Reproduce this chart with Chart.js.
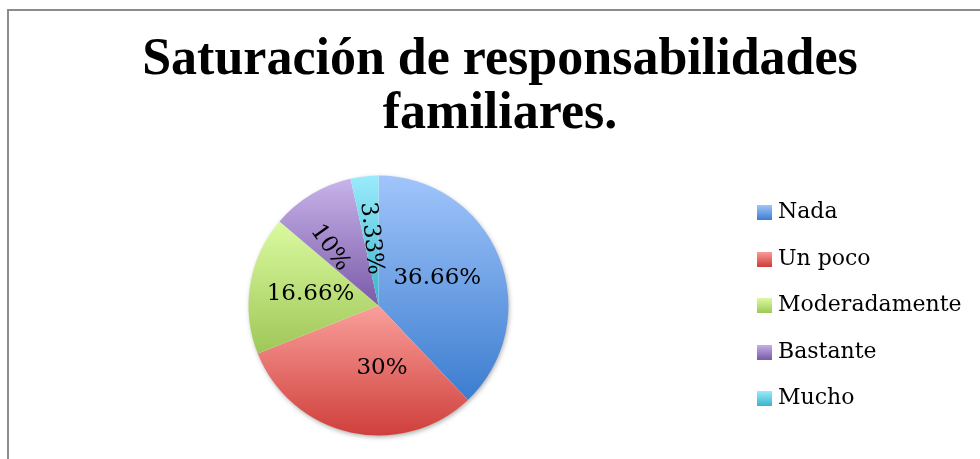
<!DOCTYPE html>
<html>
<head>
<meta charset="utf-8">
<script src="https://cdn.jsdelivr.net/npm/chart.js@4/dist/chart.umd.min.js"></script>
<style>
  html, body { margin: 0; padding: 0; background: #ffffff; }
  #frame { position: absolute; left: 7px; top: 9px; width: 1100px; height: 600px;
           border-left: 2px solid #8c8c8c; border-top: 2px solid #8c8c8c; box-sizing: border-box; }
  #wrap { position: absolute; left: 0; top: 0; width: 980px; height: 459px; }
</style>
</head>
<body>
<div id="frame"></div>
<div id="wrap"><canvas id="c" width="980" height="459"></canvas></div>
<script>
// ---- data ----
const titleLines = ["Saturación de responsabilidades", "familiares."];
const categories = ["Nada", "Un poco", "Moderadamente", "Bastante", "Mucho"];
const percentValues = [36.66, 30, 16.66, 10, 3.33];

// ---- styles ----
const topColors    = ["#a0c5fb", "#fa9f9b", "#dbfaa0", "#c8b3ea", "#9aebfb"];
const bottomColors = ["#3c7dcf", "#cf3f3b", "#9fc757", "#7a5ba8", "#38b3cd"];
const flatColors   = ["#6d9fe5", "#e46f6b", "#bde07b", "#a187c9", "#69cfe4"];
const serif = "'Liberation Serif', 'Times New Roman', serif";
const bodySerif = "'DejaVu Serif', serif";
// label placement: radial fraction and angular nudge (degrees)
const labelDist = [0.50, 0.48, 0.53, 0.58, 0.52];
const labelTurn = [-3.5, -15.6, 0, -9, 0];

function sliceGradient(context) {
  const chart = context.chart;
  const i = context.dataIndex;
  const ca = chart.chartArea;
  if (!ca || i === undefined) return flatColors[i] || '#999';
  const data = context.dataset.data;
  const total = data.reduce((a, b) => a + b, 0);
  const cx = (ca.left + ca.right) / 2, cy = (ca.top + ca.bottom) / 2;
  const R = Math.min(ca.right - ca.left, ca.bottom - ca.top) / 2;
  let before = 0;
  for (let k = 0; k < i; k++) before += data[k];
  const s = -Math.PI / 2 + before / total * 2 * Math.PI;
  const e = s + data[i] / total * 2 * Math.PI;
  const ys = [cy, cy + R * Math.sin(s), cy + R * Math.sin(e)];
  const contains = (a) => {
    for (let t = a - 4 * Math.PI; t <= e + 0.0001; t += 2 * Math.PI) if (t >= s - 0.0001 && t <= e + 0.0001) return true;
    return false;
  };
  if (contains(Math.PI / 2)) ys.push(cy + R);
  if (contains(-Math.PI / 2)) ys.push(cy - R);
  const y0 = Math.min(...ys), y1 = Math.max(...ys);
  const g = chart.ctx.createLinearGradient(0, y0, 0, y1);
  g.addColorStop(0, topColors[i]);
  g.addColorStop(1, bottomColors[i]);
  return g;
}

// gradient legend swatches
const swatches = categories.map((_, i) => {
  const c = document.createElement('canvas');
  c.width = 15; c.height = 15;
  const x = c.getContext('2d');
  const g = x.createLinearGradient(0, 0, 0, 15);
  g.addColorStop(0, topColors[i]);
  g.addColorStop(1, bottomColors[i]);
  x.fillStyle = g;
  x.fillRect(0, 0, 15, 15);
  return c;
});

const legendWidthPlugin = {
  id: 'legendWidth',
  afterInit(chart) {
    const lg = chart.legend;
    if (!lg) return;
    const orig = lg.fit.bind(lg);
    lg.fit = function () { orig(); this.width = 243; };
  }
};

const pieShadow = {
  id: 'pieShadow',
  beforeDatasetsDraw(chart) {
    const arc = chart.getDatasetMeta(0).data[0];
    if (!arc) return;
    const p = arc.getProps(['x', 'y', 'outerRadius'], true);
    const ctx = chart.ctx;
    ctx.save();
    ctx.shadowColor = 'rgba(0,0,0,0.35)';
    ctx.shadowBlur = 5;
    ctx.shadowOffsetY = 2;
    ctx.shadowOffsetX = 1;
    ctx.fillStyle = '#ffffff';
    ctx.beginPath();
    ctx.arc(p.x, p.y, p.outerRadius - 0.5, 0, Math.PI * 2);
    ctx.fill();
    ctx.restore();
  }
};

const pieLabels = {
  id: 'pieLabels',
  afterDatasetsDraw(chart) {
    const meta = chart.getDatasetMeta(0);
    const ctx = chart.ctx;
    ctx.save();
    ctx.font = "23px " + bodySerif;
    ctx.fillStyle = '#000000';
    ctx.textAlign = 'center';
    ctx.textBaseline = 'middle';
    meta.data.forEach((arc, i) => {
      const p = arc.getProps(['x', 'y', 'startAngle', 'endAngle', 'outerRadius'], true);
      const mid = (p.startAngle + p.endAngle) / 2;
      const ang = mid + labelTurn[i] * Math.PI / 180;
      const span = p.endAngle - p.startAngle;
      const rotate = span < 0.7;
      const r = p.outerRadius * labelDist[i];
      const px = p.x + Math.cos(ang) * r;
      const py = p.y + Math.sin(ang) * r;
      ctx.save();
      ctx.translate(px, py);
      if (rotate) ctx.rotate((mid + ang) / 2 + Math.PI);
      ctx.fillText(percentValues[i] + '%', 0, 0);
      ctx.restore();
    });
    ctx.restore();
  }
};

new Chart(document.getElementById('c'), {
  type: 'pie',
  data: {
    labels: categories,
    datasets: [{
      data: percentValues,
      backgroundColor: sliceGradient,
      borderWidth: 0
    }]
  },
  options: {
    responsive: false,
    animation: false,
    devicePixelRatio: 1,
    layout: { padding: { left: 19.5, right: -0.5, top: 10, bottom: 23.5 } },
    plugins: {
      tooltip: { enabled: false },
      title: {
        display: true,
        text: titleLines,
        color: '#000000',
        font: { family: serif, size: 52, weight: 'bold', lineHeight: 1.03 },
        padding: { top: 24.25, bottom: 34.25 }
      },
      legend: {
        position: 'right',
        fullSize: false,
        align: 'center',
        labels: {
          color: '#000000',
          font: { family: bodySerif, size: 22 },
          padding: 24.5,
          usePointStyle: true,
          pointStyleWidth: 5,
          boxHeight: 15,
          generateLabels(chart) {
            return chart.data.labels.map((t, i) => ({
              text: t,
              fillStyle: flatColors[i],
              strokeStyle: 'rgba(0,0,0,0)',
              lineWidth: 0,
              pointStyle: swatches[i],
              hidden: !chart.getDataVisibility(i),
              index: i,
              fontColor: '#000000'
            }));
          }
        }
      }
    }
  },
  plugins: [legendWidthPlugin, pieShadow, pieLabels]
});
</script>
</body>
</html>
